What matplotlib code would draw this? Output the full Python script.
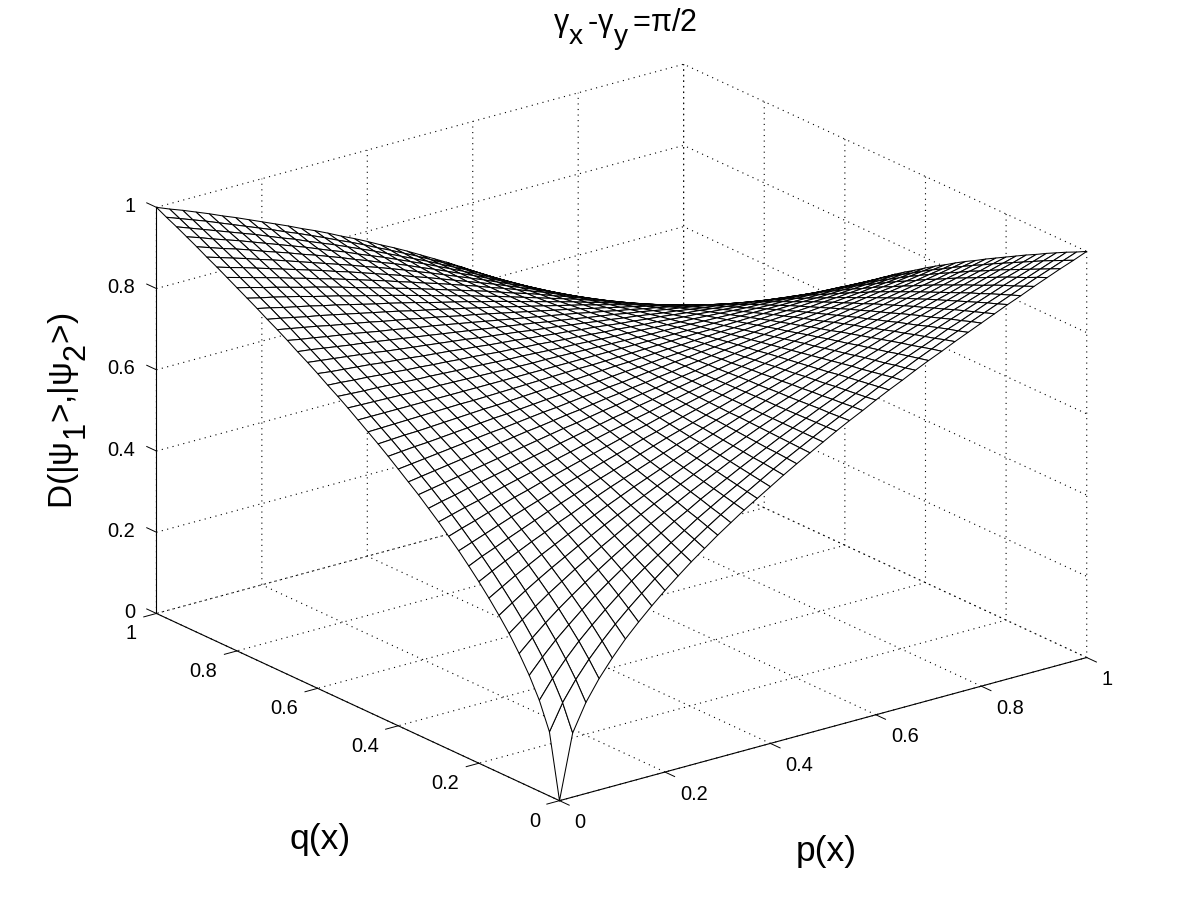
import numpy as np
import matplotlib
matplotlib.use('Agg')
import matplotlib.pyplot as plt
import matplotlib._mathtext as mathtext_internal

plt.rcParams['font.family'] = ['Liberation Sans', 'DejaVu Sans']
plt.rcParams['mathtext.fontset'] = 'custom'
plt.rcParams['mathtext.rm'] = 'Liberation Sans'
plt.rcParams['mathtext.it'] = 'Liberation Sans'
plt.rcParams['mathtext.default'] = 'regular'
mathtext_internal.SHRINK_FACTOR = 0.92
mathtext_internal.FontConstantsBase.sub1 = 0.8

title_text = r'$\gamma_x\,$-$\gamma_y\,$=$\pi$/2'
xlabel_text = 'p(x)'
ylabel_text = 'q(x)'
zlabel_text = r'D(|$\psi_1$>,|$\psi_2$>)'
tick_values = [0, 0.2, 0.4, 0.6, 0.8, 1]
tick_labels = ['0', '0.2', '0.4', '0.6', '0.8', '1']

# surface heights in thousandths (41 x 41, first 21 rows)
z_r00 = [0,158,224,274,316,354,387,418,447,474,500,524,548,570,592,612,632,652,671,689,707,725,742,758,775,791,806,822,837,851,866,880,894,908,922,935,949,962,975,987,1000]
z_r01 = [158,221,269,310,346,379,409,437,464,489,512,535,557,578,598,617,636,655,673,690,707,724,740,756,771,787,802,816,831,845,859,872,886,899,912,925,938,951,963,975,987]
z_r02 = [224,269,308,343,374,403,430,456,480,502,524,545,566,585,604,622,640,658,675,691,707,723,738,753,768,783,797,811,825,838,851,865,877,890,903,915,927,939,951,963,975]
z_r03 = [274,310,343,372,400,426,450,473,495,516,536,556,574,593,610,627,644,660,676,692,707,722,737,751,765,779,792,805,819,831,844,857,869,881,893,905,917,928,939,951,962]
z_r04 = [316,346,374,400,424,447,469,490,510,529,548,566,583,600,616,632,648,663,678,693,707,721,735,748,762,775,787,800,812,825,837,849,860,872,883,894,906,917,927,938,949]
z_r05 = [354,379,403,426,447,468,487,506,524,542,559,576,592,607,622,637,652,666,680,694,707,720,733,746,758,771,783,795,806,818,829,840,851,862,873,884,894,905,915,925,935]
z_r06 = [387,409,430,450,469,487,505,522,539,555,570,585,600,614,628,642,656,669,682,695,707,719,731,743,755,766,778,789,800,811,822,832,843,853,863,873,883,893,903,912,922]
z_r07 = [418,437,456,473,490,506,522,537,552,567,581,595,608,621,634,647,660,672,684,696,707,719,730,741,752,762,773,783,794,804,814,824,834,843,853,862,872,881,890,899,908]
z_r08 = [447,464,480,495,510,524,539,552,566,579,592,604,616,628,640,652,663,675,686,696,707,718,728,738,748,758,768,778,787,797,806,815,825,834,843,851,860,869,877,886,894]
z_r09 = [474,489,502,516,529,542,555,567,579,591,602,613,624,635,646,657,667,677,687,697,707,717,726,736,745,754,763,772,781,790,798,807,815,824,832,840,849,857,865,872,880]
z_r10 = [500,512,524,536,548,559,570,581,592,602,612,622,632,642,652,661,671,680,689,698,707,716,725,733,742,750,758,766,775,783,791,798,806,814,822,829,837,844,851,859,866]
z_r11 = [524,535,545,556,566,576,585,595,604,613,622,631,640,649,658,666,675,683,691,699,707,715,723,731,738,746,753,761,768,775,783,790,797,804,811,818,825,831,838,845,851]
z_r12 = [548,557,566,574,583,592,600,608,616,624,632,640,648,656,663,671,678,686,693,700,707,714,721,728,735,742,748,755,762,768,775,781,787,794,800,806,812,819,825,831,837]
z_r13 = [570,578,585,593,600,607,614,621,628,635,642,649,656,662,669,675,682,688,695,701,707,713,719,725,731,737,743,749,755,761,766,772,778,783,789,795,800,805,811,816,822]
z_r14 = [592,598,604,610,616,622,628,634,640,646,652,658,663,669,675,680,686,691,696,702,707,712,718,723,728,733,738,743,748,753,758,763,768,773,778,783,787,792,797,802,806]
z_r15 = [612,617,622,627,632,637,642,647,652,657,661,666,671,675,680,685,689,694,698,703,707,712,716,720,725,729,733,737,742,746,750,754,758,762,766,771,775,779,783,787,791]
z_r16 = [632,636,640,644,648,652,656,660,663,667,671,675,678,682,686,689,693,696,700,704,707,711,714,718,721,725,728,731,735,738,742,745,748,752,755,758,762,765,768,771,775]
z_r17 = [652,655,658,660,663,666,669,672,675,677,680,683,686,688,691,694,696,699,702,704,707,710,712,715,718,720,723,725,728,731,733,736,738,741,743,746,748,751,753,756,758]
z_r18 = [671,673,675,676,678,680,682,684,686,687,689,691,693,695,696,698,700,702,704,705,707,709,711,712,714,716,718,719,721,723,725,726,728,730,731,733,735,737,738,740,742]
z_r19 = [689,690,691,692,693,694,695,696,696,697,698,699,700,701,702,703,704,704,705,706,707,708,709,710,711,712,712,713,714,715,716,717,718,719,719,720,721,722,723,724,725]
z_r20 = [707]*41
z_half = [z_r00,z_r01,z_r02,z_r03,z_r04,z_r05,z_r06,z_r07,z_r08,z_r09,z_r10,
          z_r11,z_r12,z_r13,z_r14,z_r15,z_r16,z_r17,z_r18,z_r19,z_r20]
# the mesh has point symmetry about its centre: the other 20 rows repeat these reversed
z_rows = z_half + [r[::-1] for r in z_half[-2::-1]]
Z = np.array(z_rows) / 1000.0
grid = np.linspace(0, 1, Z.shape[0])
P, Q = np.meshgrid(grid, grid)

fig = plt.figure(figsize=(12, 9), dpi=100, facecolor='white')
S = 1004
cx, cy = 608, 446
ax = fig.add_axes([(cx - S/2)/1200, (900 - cy - S/2)/900, S/1200, S/900], projection='3d')
ax.set_proj_type('ortho')
ax.set_box_aspect((663, 663, 434))
ax.view_init(elev=20.8, azim=-127.4)
ax.set_xlim(0, 1, view_margin=0)
ax.set_ylim(0, 1, view_margin=0)
ax.set_zlim(0, 1, view_margin=0)
ax.patch.set_alpha(0)

dot = (0, (1.0, 4.0))
for axis in (ax.xaxis, ax.yaxis, ax.zaxis):
    axis.pane.set_facecolor((1, 1, 1, 0))
    axis.pane.set_edgecolor((1, 1, 1, 0))
    axis.pane.set_linewidth(0)
    axis._axinfo['grid'].update(color='k', linewidth=0.8, linestyle=dot)
    axis._axinfo['tick'].update(inward_factor=0.3, outward_factor=0.0, linewidth={True: 0.7, False: 0.7})
    axis._axinfo['axisline'].update(color='k', linewidth=0.8)
    axis.line.set_color('k')
    axis.line.set_linewidth(0.8)
    axis.gridlines.set_capstyle('butt')
# the height axis ticks point along q, outwards from the box
ax.zaxis._get_tickdir = lambda pos: 1
ax.zaxis._axinfo['tick'].update(inward_factor=0.0, outward_factor=0.3)

ax.set_xticks(tick_values, tick_labels)
ax.set_yticks(tick_values, tick_labels)
ax.set_zticks(tick_values, tick_labels)
ax.xaxis.set_tick_params(labelsize=14.4, pad=6)
ax.yaxis.set_tick_params(labelsize=14.4, pad=6)
ax.zaxis.set_tick_params(labelsize=14.4, pad=0.5)
plt.setp(ax.get_xticklabels(), ha='left', va='center')
plt.setp(ax.get_yticklabels(), ha='right', va='center')
plt.setp(ax.get_zticklabels(), ha='right', va='center')

ax.plot_surface(P, Q, Z, rstride=1, cstride=1, color='white', edgecolor='k',
                linewidth=0.75, shade=False, antialiased=True)

fig.text(625/1200, 1 - 30/900, title_text, fontsize=22, ha='center', va='center')
fig.text(826/1200, 1 - 851/900, xlabel_text, fontsize=25.5, ha='center', va='center')
fig.text(320/1200, 1 - 840/900, ylabel_text, fontsize=25.5, ha='center', va='center')
fig.text(68/1200, 1 - 411/900, zlabel_text, fontsize=24, ha='center', va='center', rotation=90)

fig.savefig('out.png', dpi=100, facecolor='white')
